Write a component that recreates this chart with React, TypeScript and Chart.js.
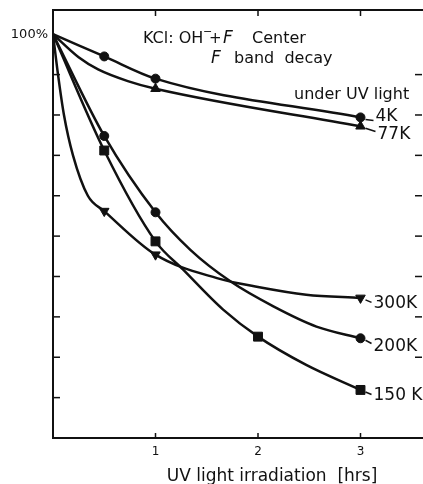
import React, { useEffect, useRef } from 'react';
import { Chart, registerables } from 'chart.js';

Chart.register(...registerables);

// ---- data ----
const hours4K = [0, 0.5, 1, 3];
const values4K = [100, 94.5, 89, 79.4];
const markers4K = [false, true, true, true];

const hours77K = [0, 0.25, 0.44, 0.73, 1, 3];
const values77K = [100, 94.3, 91.3, 88.4, 86.5, 77.2];
const markers77K = [false, false, false, false, true, true];

const hours300K = [0, 0.049, 0.107, 0.195, 0.34, 0.5, 1, 1.6, 2, 2.47, 3];
const values300K = [100, 90, 80, 70, 60, 56.2, 45.4, 39.6, 37.4, 35.5, 34.7];
const markers300K = [false, false, false, false, false, true, true, false, false, false, true];

const hours200K = [0, 0.5, 1, 1.34, 1.73, 2.15, 2.57, 3];
const values200K = [100, 74.8, 55.9, 46.6, 38.8, 32.6, 27.6, 24.7];
const markers200K = [false, true, true, false, false, false, false, true];

const hours150K = [0, 0.5, 1, 1.27, 1.66, 2, 2.47, 3];
const values150K = [100, 71.2, 48.7, 41.7, 31.8, 25.1, 18.1, 11.9];
const markers150K = [false, true, true, false, false, true, false, true];

const seriesNames = ['4K', '77K', '300K', '200K', '150 K'];
const xTickValues = [1, 2, 3];
const yLabelValues = [100];
const yLeftTickValues = [10, 20, 30, 40, 50, 60, 70, 80, 90];
const yRightTickValues = [20, 30, 40, 50, 60, 70, 80, 90];
const xTitle = 'UV light irradiation  [hrs]';

const FONT = '"DejaVu Sans", sans-serif';
const INK = '#111';

function pts(xs: number[], ys: number[]) {
  return xs.map((x, i) => ({ x, y: ys[i] }));
}
function radii(marks: boolean[], r: number) {
  return marks.map((m) => (m ? r : 0));
}

const labelOffsets: Record<string, [number, number]> = {
  '4K': [15, 4],
  '77K': [17, 13],
  '300K': [13, 10],
  '200K': [13, 13],
  '150 K': [13, 10],
};

const decorPlugin = {
  id: 'decor',
  afterDraw(chart: any) {
    const { ctx, chartArea, scales } = chart;
    const xs = scales.x;
    const ys = scales.y;
    const { left, right, top, bottom } = chartArea;
    ctx.save();
    ctx.strokeStyle = INK;
    ctx.fillStyle = INK;
    ctx.lineCap = 'butt';

    ctx.lineWidth = 2;
    ctx.beginPath();
    ctx.moveTo(left, top);
    ctx.lineTo(chart.width, top);
    ctx.stroke();

    ctx.lineWidth = 1.5;
    for (const v of xTickValues) {
      const px = xs.getPixelForValue(v);
      ctx.beginPath();
      ctx.moveTo(px, top);
      ctx.lineTo(px, top + 6);
      ctx.moveTo(px, bottom + 1);
      ctx.lineTo(px, bottom - 5);
      ctx.stroke();
    }
    for (const v of yLeftTickValues) {
      const py = ys.getPixelForValue(v);
      ctx.beginPath();
      ctx.moveTo(left, py);
      ctx.lineTo(left + 7, py);
      ctx.stroke();
    }
    for (const v of yRightTickValues) {
      const py = ys.getPixelForValue(v);
      ctx.beginPath();
      ctx.moveTo(right - 7, py);
      ctx.lineTo(right, py);
      ctx.stroke();
    }

    ctx.textBaseline = 'alphabetic';
    ctx.textAlign = 'left';
    ctx.font = `16px ${FONT}`;
    ctx.fillText('KCl: OH', 143, 43);
    ctx.font = `11px ${FONT}`;
    ctx.fillText('−', 203, 35);
    ctx.font = `15px ${FONT}`;
    ctx.fillText('+', 209, 43);
    ctx.font = `italic 17px ${FONT}`;
    ctx.fillText('F', 223, 43);
    ctx.font = `16px ${FONT}`;
    ctx.fillText('Center', 252, 43);

    ctx.font = `italic 17px ${FONT}`;
    ctx.fillText('F', 211, 63);
    ctx.font = `16px ${FONT}`;
    ctx.fillText('band  decay', 234, 63);

    ctx.fillText('under UV light', 294, 99);

    ctx.font = `17px ${FONT}`;
    chart.data.datasets.forEach((ds: any, i: number) => {
      const name = seriesNames[i];
      const last = ds.data[ds.data.length - 1];
      const px = xs.getPixelForValue(last.x);
      const py = ys.getPixelForValue(last.y);
      const [dx, dy] = labelOffsets[name];
      ctx.lineWidth = 1.5;
      ctx.beginPath();
      ctx.moveTo(px + 5, py + 2);
      ctx.lineTo(px + dx - 2, py + 2 + dy / 4);
      ctx.stroke();
      ctx.fillText(name, px + dx, py + dy);
    });

    ctx.font = `17px ${FONT}`;
    ctx.textAlign = 'center';
    ctx.fillText(xTitle, 272, 481);

    ctx.restore();
  },
};

export default function App() {
  const ref = useRef<HTMLCanvasElement>(null);
  useEffect(() => {
    if (!ref.current) return;
    const common = {
      borderColor: INK,
      backgroundColor: INK,
      pointBackgroundColor: INK,
      pointBorderColor: INK,
      borderWidth: 2.5,
      showLine: true,
      cubicInterpolationMode: 'monotone' as const,
      pointBorderWidth: 1,
    };
    const chart = new Chart(ref.current, {
      type: 'scatter',
      data: {
        datasets: [
          { ...common, label: seriesNames[0], data: pts(hours4K, values4K), pointStyle: 'circle', pointRadius: radii(markers4K, 4.5) },
          { ...common, label: seriesNames[1], data: pts(hours77K, values77K), pointStyle: 'triangle', pointRadius: radii(markers77K, 5.5) },
          { ...common, label: seriesNames[2], data: pts(hours300K, values300K), pointStyle: 'triangle', rotation: 180, pointRadius: radii(markers300K, 5.5) },
          { ...common, label: seriesNames[3], data: pts(hours200K, values200K), pointStyle: 'circle', pointRadius: radii(markers200K, 4.5) },
          { ...common, label: seriesNames[4], data: pts(hours150K, values150K), pointStyle: 'rect', pointRadius: radii(markers150K, 6.3) },
        ],
      },
      options: {
        responsive: false,
        animation: false,
        devicePixelRatio: 1,
        layout: { autoPadding: false, padding: { top: 10, right: 1, left: 0, bottom: 0 } },
        plugins: { legend: { display: false }, tooltip: { enabled: false } },
        scales: {
          x: {
            type: 'linear',
            min: 0,
            max: 3.6,
            grid: { display: false, drawTicks: false },
            border: { display: true, color: INK, width: 2 },
            afterBuildTicks: (s: any) => {
              s.ticks = xTickValues.map((v) => ({ value: v }));
            },
            afterFit: (s: any) => {
              s.height = 46;
              s.paddingLeft = 0;
              s.paddingRight = 0;
            },
            ticks: { color: INK, font: { family: FONT, size: 12 }, padding: 7, maxRotation: 0, autoSkip: false, callback: (v: any) => String(v) },
          },
          y: {
            type: 'linear',
            min: 0,
            max: 106,
            grid: { display: false, drawTicks: false },
            border: { display: true, color: INK, width: 2 },
            afterBuildTicks: (s: any) => {
              s.ticks = yLabelValues.map((v) => ({ value: v }));
            },
            afterFit: (s: any) => {
              s.width = 53;
              s.paddingTop = 0;
              s.paddingBottom = 0;
            },
            ticks: { color: INK, font: { family: FONT, size: 13 }, padding: 5, autoSkip: false, callback: (v: any) => `${v}%` },
          },
        },
      },
      plugins: [decorPlugin],
    });
    return () => chart.destroy();
  }, []);
  return (
    <div style={{ position: 'fixed', left: 0, top: 0, width: 423, height: 484, background: '#fff' }}>
      <canvas ref={ref} width={423} height={484} style={{ display: 'block', width: 423, height: 484 }} />
    </div>
  );
}
